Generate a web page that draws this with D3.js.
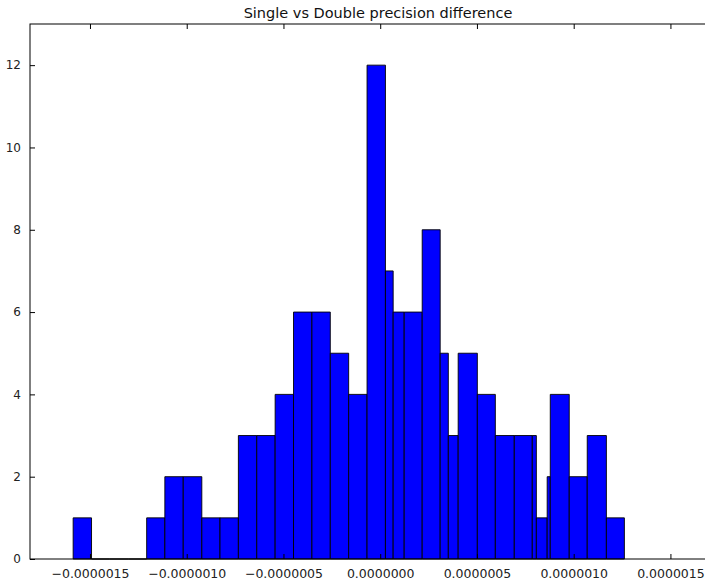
<!DOCTYPE html>
<html>
<head>
<meta charset="utf-8">
<script src="https://cdn.jsdelivr.net/npm/d3@7"></script>
<style>
  body { margin: 0; background: #fff; }
  svg text { font-family: 'DejaVu Sans', sans-serif; }
</style>
</head>
<body>
<svg id="chart" width="705" height="581"></svg>
<script>
// bin edges (x 1e-6) and counts
let binEdges = [-1.587, -1.492, -1.398, -1.302, -1.207, -1.113, -1.018, -0.922,
                -0.828, -0.733, -0.638, -0.543, -0.448, -0.353, -0.258, -0.163,
                -0.068, 0.027, 0.067, 0.124, 0.217, 0.310, 0.352, 0.403, 0.502,
                0.595, 0.693, 0.786, 0.807, 0.863, 0.879, 0.977, 1.070, 1.169, 1.262];
let binCounts = [1, 0, 0, 0, 1, 2, 2, 1, 1, 3, 3, 4, 6, 6, 5, 4, 12,
                 7, 6, 6, 8, 5, 3, 5, 4, 3, 3, 3, 1, 2, 4, 2, 3, 1];
let xTicks = [-1.5, -1.0, -0.5, 0.0, 0.5, 1.0, 1.5];
let yTicks = [0, 2, 4, 6, 8, 10, 12];
let title = 'Single vs Double precision difference';

let svg = d3.select('#chart');
let plot = {left: 30, right: 713, top: 24, bottom: 559};

let xScale = d3.scaleLinear()
               .domain([-1.81e-6, 1.72e-6])
               .range([plot.left, plot.right]);
let yScale = d3.scaleLinear()
               .domain([0, 13])
               .range([plot.bottom, plot.top]);

let bins = [];
for(let i = 0; i < binCounts.length; i++){
  bins.push({x0: binEdges[i]*1e-6, x1: binEdges[i+1]*1e-6, count: binCounts[i]});
}

function barPath(d){
  let p = d3.path();
  let x0 = xScale(d.x0), x1 = xScale(d.x1);
  let y0 = yScale(0), y1 = yScale(d.count);
  p.moveTo(x0, y0);
  p.lineTo(x0, y1);
  p.lineTo(x1, y1);
  p.lineTo(x1, y0);
  p.closePath();
  return p.toString();
}

svg.selectAll('.bar')
   .data(bins)
   .enter()
   .append('path')
   .attr('class', 'bar')
   .attr('d', barPath)
   .attr('fill', '#0000ff')
   .attr('stroke', 'black')
   .attr('stroke-width', 0.9);

// frame
svg.append('rect')
   .attr('x', plot.left)
   .attr('y', plot.top)
   .attr('width', plot.right - plot.left)
   .attr('height', plot.bottom - plot.top)
   .attr('fill', 'none')
   .attr('stroke', 'black')
   .attr('stroke-width', 1);

let fmt = function(v){ return (v < 0 ? '\u2212' : '') + Math.abs(v).toFixed(7); };

// bottom + top axes, ticks pointing inward
svg.append('g')
   .attr('transform', 'translate(0,' + plot.bottom + ')')
   .call(d3.axisBottom(xScale)
           .tickValues(xTicks.map(function(v){ return v*1e-6; }))
           .tickSizeInner(-5)
           .tickSizeOuter(0)
           .tickPadding(10)
           .tickFormat(fmt))
   .call(function(g){ g.select('.domain').remove(); })
   .selectAll('text')
   .attr('font-size', '12.5px')
   .attr('fill', '#222');

svg.append('g')
   .attr('transform', 'translate(0,' + plot.top + ')')
   .call(d3.axisTop(xScale)
           .tickValues(xTicks.map(function(v){ return v*1e-6; }))
           .tickSizeInner(-5)
           .tickSizeOuter(0)
           .tickFormat(''))
   .call(function(g){ g.select('.domain').remove(); });

svg.append('g')
   .attr('transform', 'translate(' + plot.left + ',0)')
   .call(d3.axisLeft(yScale)
           .tickValues(yTicks)
           .tickSizeInner(-5)
           .tickSizeOuter(0)
           .tickPadding(9))
   .call(function(g){ g.select('.domain').remove(); })
   .selectAll('text')
   .attr('font-size', '12px')
   .attr('fill', '#222');

svg.append('text')
   .attr('x', 378)
   .attr('y', 18)
   .attr('text-anchor', 'middle')
   .attr('font-size', '14.5px')
   .attr('fill', '#111')
   .text(title);
</script>
</body>
</html>
